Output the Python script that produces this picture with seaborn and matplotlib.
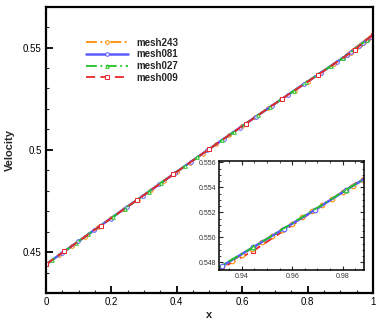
import matplotlib
matplotlib.use("Agg")
import matplotlib.pyplot as plt
import seaborn as sns
import pandas as pd
from matplotlib.ticker import MultipleLocator

# ---------------- data ----------------
x243 = [0.0, 0.04, 0.08, 0.12, 0.16, 0.20, 0.24, 0.28, 0.32, 0.36, 0.40, 0.44,
        0.48, 0.52, 0.56, 0.60, 0.64, 0.68, 0.72, 0.76, 0.80, 0.84, 0.88, 0.92,
        0.928, 0.932, 0.936, 0.940, 0.944, 0.948, 0.952, 0.956, 0.960, 0.964,
        0.968, 0.972, 0.976, 0.980, 0.984, 0.988, 0.992, 0.996, 1.0]
v243 = [0.4440, 0.4485, 0.4531, 0.4576, 0.4622, 0.4667, 0.4712, 0.4757, 0.4802,
        0.4848, 0.4893, 0.4938, 0.4982, 0.5027, 0.5071, 0.5116, 0.5160, 0.5203,
        0.5247, 0.5290, 0.5334, 0.5377, 0.5420, 0.5463,
        0.5472, 0.5476, 0.5481, 0.5486, 0.5491, 0.5496, 0.5501, 0.5506, 0.5511,
        0.5516, 0.5521, 0.5526, 0.5531, 0.5536, 0.5541, 0.5546, 0.5551, 0.5556,
        0.5561]

x081 = [0.0, 0.0494, 0.0988, 0.1481, 0.1975, 0.2469, 0.2963, 0.3457, 0.3951,
        0.4444, 0.4938, 0.5432, 0.5926, 0.6420, 0.6914, 0.7407, 0.7901, 0.8395,
        0.8889, 0.9074, 0.9198, 0.9321, 0.9444, 0.9568, 0.9691, 0.9815, 0.9938,
        1.0]
v081 = [0.4440, 0.4496, 0.4552, 0.4608, 0.4664, 0.4720, 0.4775, 0.4831, 0.4887,
        0.4943, 0.4998, 0.5053, 0.5108, 0.5162, 0.5216, 0.5270, 0.5323, 0.5376,
        0.5429, 0.5449, 0.5463, 0.5477, 0.5492, 0.5507, 0.5522, 0.5538, 0.5553,
        0.5561]

x027 = [0.0, 0.0185, 0.0556, 0.0926, 0.1296, 0.1667, 0.2037, 0.2407, 0.2778,
        0.3148, 0.3519, 0.3889, 0.4259, 0.4630, 0.5000, 0.5370, 0.5741, 0.6111,
        0.6481, 0.6852, 0.7222, 0.7593, 0.7963, 0.8333, 0.8704, 0.9074, 0.9444,
        0.9815, 1.0]
v027 = [0.4440, 0.4461, 0.4503, 0.4545, 0.4587, 0.4629, 0.4671, 0.4713, 0.4754,
        0.4796, 0.4839, 0.4880, 0.4922, 0.4963, 0.5005, 0.5046, 0.5087, 0.5128,
        0.5169, 0.5209, 0.5250, 0.5290, 0.5330, 0.5370, 0.5409, 0.5449, 0.5492,
        0.5538, 0.5561]

x009 = [0.0, 0.0556, 0.1667, 0.2778, 0.3889, 0.5000, 0.6111, 0.7222, 0.8333,
        0.9444, 1.0]
v009 = [0.4440, 0.4503, 0.4629, 0.4754, 0.4880, 0.5005, 0.5128, 0.5250, 0.5368,
        0.5489, 0.5563]

labels = ["mesh243", "mesh081", "mesh027", "mesh009"]
xs = [x243, x081, x027, x009]
vs = [v243, v081, v027, v009]

# ---------------- styles ----------------
colors = ["#FF8C00", "#5A5AFF", "#22C322", "#E8262B"]
styles = [(0, (6, 2, 1, 1.5, 1, 2)), "-", (0, (6, 2, 1, 2)), (0, (5, 3))]
markers = ["o", "o", "^", "s"]
lws = [1.3, 1.8, 1.3, 1.3]

sns.set_theme(style="ticks")
plt.rcParams["font.family"] = ["Liberation Sans", "DejaVu Sans"]
plt.rcParams["axes.linewidth"] = 1.6

fig = plt.figure(figsize=(3.82, 3.19), dpi=100)
ax = fig.add_axes([0.1204, 0.0815, 0.9764 - 0.1204, 0.979 - 0.0815])

frames = []
for lab, x, v in zip(labels, xs, vs):
    frames.append(pd.DataFrame({"x": x, "v": v, "mesh": lab}))
df = pd.concat(frames, ignore_index=True)


def draw(a, ms, mew, order):
    for i in order:
        lab, c, ls, mk, lw = labels[i], colors[i], styles[i], markers[i], lws[i]
        sub = df[df["mesh"] == lab]
        sns.lineplot(data=sub, x="x", y="v", ax=a, color=c, linestyle=ls,
                     marker=mk, markersize=ms, markerfacecolor="white",
                     markeredgecolor=c, markeredgewidth=mew, linewidth=lw,
                     label=lab, sort=False, estimator=None)


draw(ax, 2.6, 0.7, [0, 1, 2, 3])

ax.set_xlim(0, 1)
ax.set_ylim(0.43, 0.57)
ax.xaxis.set_minor_locator(MultipleLocator(0.05))
ax.yaxis.set_minor_locator(MultipleLocator(0.01))
ax.set_xticks([0, 0.2, 0.4, 0.6, 0.8, 1.0])
ax.set_xticklabels(["0", "0.2", "0.4", "0.6", "0.8", "1"])
ax.set_yticks([0.45, 0.5, 0.55])
ax.set_yticklabels(["0.45", "0.5", "0.55"])
ax.tick_params(which="major", direction="in", length=5, width=1.3,
               labelsize=7, pad=3, colors="black")
ax.tick_params(which="minor", direction="in", length=2.5, width=0.8)
ax.set_xlabel("x", fontsize=8, fontweight="bold", labelpad=2)
ax.set_ylabel("Velocity", fontsize=8, fontweight="bold", labelpad=6)
for s in ax.spines.values():
    s.set_linewidth(1.6)
    s.set_color("black")

leg = ax.legend(loc="upper left", bbox_to_anchor=(0.11, 0.905), frameon=False,
                prop={"weight": "bold", "size": 7},
                handlelength=4.3, handletextpad=0.9, labelspacing=0.17,
                numpoints=1, borderaxespad=0)

# ---------------- inset ----------------
axi = fig.add_axes([0.5733, 0.1536, 0.9529 - 0.5733, 0.4953 - 0.1536])
draw(axi, 3.3, 0.8, [3, 0, 1, 2])
if axi.get_legend():
    axi.get_legend().remove()
axi.set_xlim(0.931, 0.9885)
axi.set_ylim(0.5474, 0.5561)
axi.xaxis.set_minor_locator(MultipleLocator(0.005))
axi.yaxis.set_minor_locator(MultipleLocator(0.0005))
axi.set_xticks([0.94, 0.96, 0.98])
axi.set_yticks([0.548, 0.550, 0.552, 0.554, 0.556])
axi.set_yticklabels(["0.548", "0.550", "0.552", "0.554", "0.556"])
axi.tick_params(which="both", direction="in", top=True, right=True,
                labelsize=5, pad=2, labelcolor="#333333")
axi.tick_params(which="major", length=3, width=0.8)
axi.tick_params(which="minor", length=1.5, width=0.6)
axi.set_xlabel("")
axi.set_ylabel("")
for s in axi.spines.values():
    s.set_linewidth(1.1)
    s.set_color("black")

fig.savefig("out.png", dpi=100)
